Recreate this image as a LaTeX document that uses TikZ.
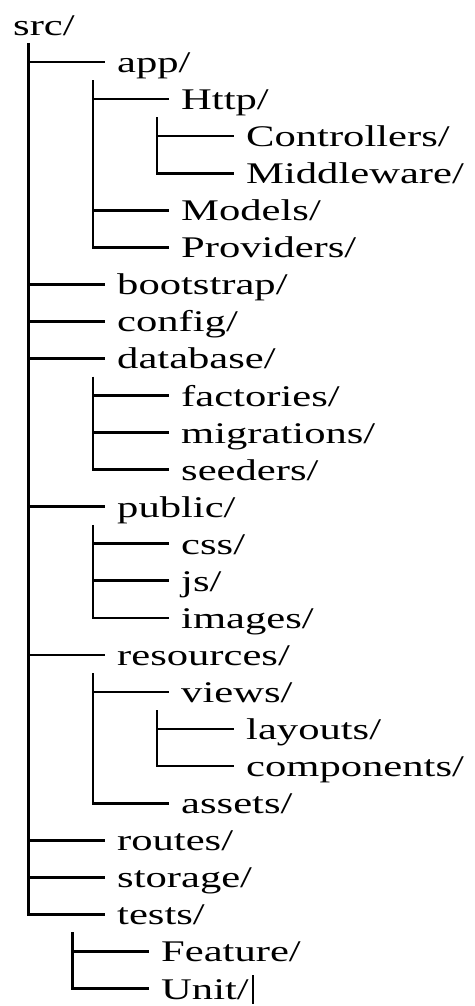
\documentclass[tikz,border=0pt]{standalone}
\usepackage{fontspec}
\setmainfont[FakeStretch=1.42]{Liberation Serif}
% one branch ├── from a trunk to an entry
\newcommand\twig[2]{\draw[tree] (#1 |- #2.west) -- ([xshift=-12pt]#2.west);}
% a trunk from the top of its first entry's row down to the last entry, ending in └──
\newcommand\twiglast[3]{\draw[tree] (#1 |- #2.west) ++(0,-19) -- (#1 |- #3.west) -- ([xshift=-12pt]#3.west);}
\begin{document}
\begin{tikzpicture}[x=1pt,y=-1pt,
  entry/.style={anchor=west, inner sep=0pt, text height=27.5pt, text depth=6.5pt,
                font=\fontsize{30pt}{36pt}\selectfont},
  tree/.style={line width=2.7pt, line join=miter},
  caret/.style={line width=1.3pt}]
\fill[white] (0,0) rectangle (474,1006);
\useasboundingbox (0,0) rectangle (474,1006);

% directory entries, one row each
\node[entry] (src)         at (13, 24.94)  {src/};
\node[entry] (app)         at (117, 62.00) {app/};
\node[entry] (http)        at (181, 99.06) {Http/};
\node[entry] (controllers) at (246,136.12) {Controllers/};
\node[entry] (middleware)  at (246,173.18) {Middleware/};
\node[entry] (models)      at (181,210.24) {Models/};
\node[entry] (providers)   at (181,247.30) {Providers/};
\node[entry] (bootstrap)   at (117,284.36) {bootstrap/};
\node[entry] (config)      at (117,321.42) {config/};
\node[entry] (database)    at (117,358.48) {database/};
\node[entry] (factories)   at (181,395.54) {factories/};
\node[entry] (migrations)  at (181,432.60) {migrations/};
\node[entry] (seeders)     at (181,469.66) {seeders/};
\node[entry] (public)      at (117,506.72) {public/};
\node[entry] (css)         at (181,543.78) {css/};
\node[entry] (js)          at (181,580.84) {js/};
\node[entry] (images)      at (181,617.90) {images/};
\node[entry] (resources)   at (117,654.96) {resources/};
\node[entry] (views)       at (181,692.02) {views/};
\node[entry] (layouts)     at (246,729.08) {layouts/};
\node[entry] (components)  at (246,766.14) {components/};
\node[entry] (assets)      at (181,803.20) {assets/};
\node[entry] (routes)      at (117,840.26) {routes/};
\node[entry] (storage)     at (117,877.32) {storage/};
\node[entry] (tests)       at (117,914.38) {tests/};
\node[entry] (feature)     at (161,951.44) {Feature/};
\node[entry] (unit)        at (161,988.50) {Unit/};

% trunk positions
\coordinate (srcT)  at (28.3,0);
\coordinate (appT)  at (93,0);
\coordinate (httpT) at (157,0);
\coordinate (dbT)   at (93,0);
\coordinate (pubT)  at (93,0);
\coordinate (resT)  at (93,0);
\coordinate (viewT) at (157,0);
\coordinate (testT) at (72.5,0);

% src/
\foreach \c in {app,bootstrap,config,database,public,resources,routes,storage} {\twig{srcT}{\c}}
\twiglast{srcT}{app}{tests}
% app/
\twig{appT}{http}
\twig{appT}{models}
\twiglast{appT}{http}{providers}
% app/Http/
\twig{httpT}{controllers}
\twiglast{httpT}{controllers}{middleware}
% database/
\twig{dbT}{factories}
\twig{dbT}{migrations}
\twiglast{dbT}{factories}{seeders}
% public/
\twig{pubT}{css}
\twig{pubT}{js}
\twiglast{pubT}{css}{images}
% resources/
\twig{resT}{views}
\twiglast{resT}{views}{assets}
% resources/views/
\twig{viewT}{layouts}
\twiglast{viewT}{layouts}{components}
% tests/
\twig{testT}{feature}
\twiglast{testT}{feature}{unit}

% text cursor after the last entry
\draw[caret] ([xshift=4pt,yshift=13.5pt]unit.east) -- ([xshift=4pt,yshift=-15pt]unit.east);
\end{tikzpicture}
\end{document}
